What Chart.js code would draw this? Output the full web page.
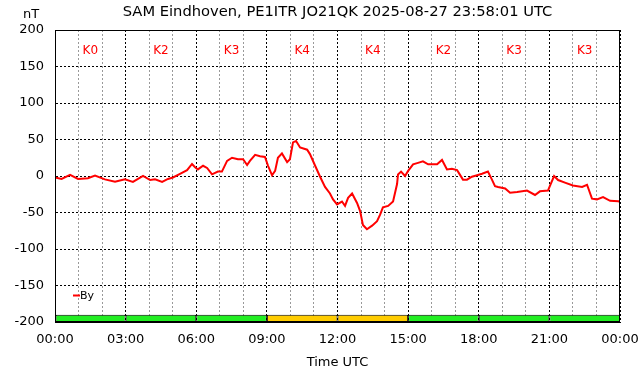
<!DOCTYPE html>
<html>
<head>
<meta charset="utf-8">
<script src="https://cdn.jsdelivr.net/npm/chart.js@4/dist/chart.umd.min.js"></script>
<style>
  html, body { margin: 0; padding: 0; background: #fff; }
  #contenedor { width: 642px; height: 376px; }
</style>
</head>
<body>
<div id="contenedor"><canvas id="Grafico"></canvas></div>
<script>
// hora UTC (decimal) y valor By en nT
const horas = [0.00, 0.28, 0.64, 0.98, 1.40, 1.70, 2.12, 2.55, 2.97, 3.31, 3.74, 4.04, 4.25, 4.55, 4.80, 5.01,
    5.31, 5.61, 5.82, 5.95, 6.07, 6.29, 6.46, 6.67, 6.92, 7.09, 7.31, 7.52, 7.77, 7.99, 8.16, 8.28, 8.50, 8.71,
    8.92, 9.05, 9.22, 9.35, 9.47, 9.64, 9.86, 9.98, 10.11, 10.24, 10.41, 10.71, 10.83, 11.05, 11.26, 11.47,
    11.68, 11.81, 11.98, 12.19, 12.32, 12.45, 12.62, 12.83, 12.96, 13.08, 13.25, 13.47, 13.68, 13.81, 13.93,
    14.15, 14.36, 14.53, 14.57, 14.70, 14.87, 15.00, 15.21, 15.42, 15.63, 15.85, 16.06, 16.23, 16.44, 16.65,
    16.86, 17.08, 17.33, 17.50, 17.71, 17.93, 18.14, 18.39, 18.56, 18.69, 18.82, 19.12, 19.33, 19.63, 20.05,
    20.39, 20.60, 20.94, 21.20, 21.37, 21.66, 22.00, 22.39, 22.60, 22.81, 23.02, 23.28, 23.58, 23.92, 23.97];
const valores_by = [-2, -4, 1.5, -4, -3, 0.5, -4.6, -8, -4.6, -8, 0, -5.5, -4.6, -8, -4, -2,
    3, 8, 16.5, 12, 9, 14, 11, 2.3, 6, 6, 20.7, 25, 23, 23, 15, 20.7, 29, 27,
    26, 14, 1, 7, 25, 31, 19, 23, 46, 48, 39, 36, 30, 14, -1, -15,
    -24, -32, -39, -35, -41, -30, -24, -37, -48, -67, -73, -68, -62, -53, -43,
    -41, -35, -11, 2, 6, 0, 7, 16, 18, 20, 16, 16, 16, 22, 9,
    10, 8, -5, -5, -1, 1, 3, 6, -5, -14, -15, -17, -23, -22, -20,
    -26, -21, -20, 0, -5.5, -9, -13, -15, -12, -31, -32, -29, -34, -34.5, -35];

// indice K cada 3 horas
const k_inicio = [0, 3, 6, 9, 12, 15, 18, 21];
const k_valores = [0, 2, 3, 4, 4, 2, 3, 3];
const etiquetas_x = ['00:00', '03:00', '06:00', '09:00', '12:00', '15:00', '18:00', '21:00', '00:00'];

const titulo = 'SAM Eindhoven, PE1ITR JO21QK 2025-08-27 23:58:01 UTC';
const fuente = 'DejaVu Sans';

Chart.defaults.font.family = fuente;
Chart.defaults.color = '#000';

const puntos_by = [];
for (let i = 0; i < horas.length; i++) {
    puntos_by.push({ x: horas[i], y: valores_by[i] });
}
// franja K abajo: barras horizontales de -200 a -190 nT
const barras_k = [];
const colores_k = [];
for (let i = 0; i < k_valores.length; i++) {
    barras_k.push({ x: [k_inicio[i], k_inicio[i] + 3], y: -195 });
    colores_k.push(k_valores[i] >= 4 ? '#ffcc00' : '#22ee22');
}

// textos sueltos: titulo, K, leyenda, nT y marco
const extras = {
    id: 'extras',
    afterDraw(chart) {
        const ctx = chart.ctx;
        const area = chart.chartArea;
        const sx = chart.scales.x;
        const sy = chart.scales.y;
        ctx.save();
        ctx.strokeStyle = '#000';
        ctx.lineWidth = 1;
        ctx.strokeRect(area.left + 0.5, area.top + 0.5, area.right - area.left - 1, area.bottom - area.top - 1);

        ctx.fillStyle = '#000';
        ctx.textAlign = 'center';
        ctx.textBaseline = 'middle';
        ctx.font = '14.7px ' + fuente;
        ctx.fillText(titulo, (area.left + area.right) / 2, 12);
        ctx.font = '13px ' + fuente;
        ctx.fillText('nT', 31, 15);

        ctx.fillStyle = '#ff0000';
        ctx.font = '12px ' + fuente;
        for (let i = 0; i < k_valores.length; i++) {
            ctx.fillText('K' + k_valores[i], sx.getPixelForValue(k_inicio[i] + 1.5), sy.getPixelForValue(172));
        }

        ctx.strokeStyle = '#ff0000';
        ctx.lineWidth = 2;
        ctx.beginPath();
        ctx.moveTo(area.left + 18, 295.5);
        ctx.lineTo(area.left + 25, 295.5);
        ctx.stroke();
        ctx.fillStyle = '#000';
        ctx.font = '11px ' + fuente;
        ctx.textAlign = 'left';
        ctx.fillText('By', area.left + 25, 296);
        ctx.restore();
    }
};

new Chart(document.getElementById('Grafico'), {
    data: {
        datasets: [{
            type: 'line',
            label: 'By',
            data: puntos_by,
            borderColor: '#ff0000',
            backgroundColor: '#ff0000',
            borderWidth: 2,
            pointRadius: 0,
            tension: 0,
            order: 1
        }, {
            type: 'bar',
            label: 'K',
            indexAxis: 'y',
            data: barras_k,
            backgroundColor: colores_k,
            borderColor: '#000',
            borderWidth: 1,
            borderSkipped: false,
            barPercentage: 0.2,
            categoryPercentage: 1,
            order: 2
        }]
    },
    options: {
        responsive: true,
        maintainAspectRatio: false,
        animation: false,
        layout: { padding: { left: 0, right: 22, top: 30, bottom: 0 } },
        plugins: {
            legend: { display: false },
            tooltip: { enabled: false },
            title: { display: false }
        },
        scales: {
            x: {
                type: 'linear',
                min: 0,
                max: 24,
                offset: false,
                ticks: {
                    stepSize: 1,
                    autoSkip: false,
                    maxRotation: 0,
                    padding: 2,
                    font: { size: 13 },
                    callback: (v) => (v % 3 === 0 ? etiquetas_x[v / 3] : '')
                },
                grid: {
                    drawTicks: true,
                    tickLength: 8,
                    tickColor: 'rgba(0,0,0,0)',
                    offset: false,
                    color: (c) => (c.tick && c.tick.value % 3 === 0 ? '#000' : '#999'),
                    lineWidth: 1
                },
                border: { color: '#000', width: 1, dash: [2, 2] },
                title: {
                    display: true,
                    text: 'Time UTC',
                    font: { size: 13 },
                    padding: { top: 0, bottom: 6 }
                },
                afterFit: (s) => { s.height = 54; }
            },
            y: {
                type: 'linear',
                min: -200,
                max: 200,
                offset: false,
                ticks: { stepSize: 50, padding: 11, font: { size: 13 } },
                grid: { drawTicks: false, offset: false, color: '#000', lineWidth: 1 },
                border: { color: '#000', width: 1, dash: [2, 2] },
                afterFit: (s) => { s.width = 55; }
            }
        }
    },
    plugins: [extras]
});
</script>
</body>
</html>
